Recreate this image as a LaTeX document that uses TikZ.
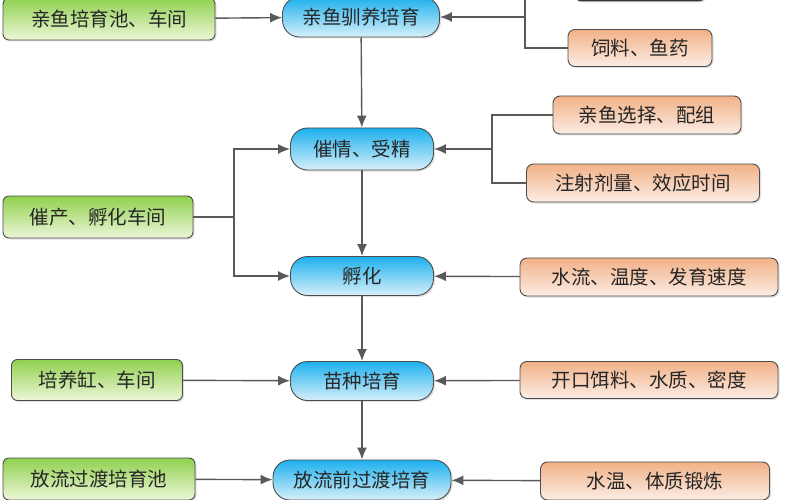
\documentclass[tikz,border=0pt]{standalone}
\usepackage{fontspec}
\setmainfont{Noto Sans CJK SC}
\usetikzlibrary{shadows,arrows.meta}
\definecolor{gtop}{HTML}{8FD14F}
\definecolor{gbot}{HTML}{EEF6D8}
\definecolor{btop}{HTML}{1CB0EE}
\definecolor{bbot}{HTML}{D8F0FA}
\definecolor{otop}{HTML}{F2B187}
\definecolor{obot}{HTML}{FBEDE4}
\begin{document}
\begin{tikzpicture}[x=1pt,y=-1pt,font=\fontsize{19.5}{22}\selectfont,
 base/.style={draw=black!70,line width=0.9pt,inner sep=0pt,anchor=center,text=black!85,
   drop shadow={shadow xshift=1.5pt,shadow yshift=-1.5pt,fill=black!25}},
 g/.style={base,rounded corners=6pt,top color=gtop,bottom color=gbot},
 b/.style={base,rounded corners=17pt,top color=btop,bottom color=bbot},
 o/.style={base,rounded corners=7pt,top color=otop,bottom color=obot},
 ln/.style={draw=black!65,line width=1.4pt},
 ar/.style={ln,-{Latex[length=12pt,width=10pt]}}]
\useasboundingbox (0,0) rectangle (800,500);
\begin{scope}
\clip (0,0) rectangle (800,500);
\node[g,minimum width=212pt,minimum height=42pt] (g1) at (109,19) {亲鱼培育池、车间};
\node[b,minimum width=157pt,minimum height=40pt] (b1) at (361,17) {亲鱼驯养培育};
\node[base,rounded corners=6pt,fill=black!85,minimum width=130pt,minimum height=38pt] (t0) at (640,-18) {};
\coordinate (t0c) at (525,0);
\node[o,minimum width=144pt,minimum height=37pt] (o1) at (640,48) {饲料、鱼药};
\node[b,minimum width=143pt,minimum height=42pt] (b2) at (362,149) {催情、受精};
\node[o,minimum width=188pt,minimum height=38pt] (o2) at (647,115) {亲鱼选择、配组};
\node[o,minimum width=233pt,minimum height=38pt] (o3) at (643,183) {注射剂量、效应时间};
\node[g,minimum width=190pt,minimum height=42pt] (g2) at (98,217) {催产、孵化车间};
\node[b,minimum width=143pt,minimum height=39pt] (b3) at (362,276) {孵化};
\node[o,minimum width=258pt,minimum height=38pt] (o4) at (649,277) {水流、温度、发育速度};
\node[g,minimum width=171pt,minimum height=41pt] (g3) at (97,380) {培养缸、车间};
\node[b,minimum width=143pt,minimum height=39pt] (b4) at (362,381) {苗种培育};
\node[o,minimum width=258pt,minimum height=37pt] (o5) at (649,380) {开口饵料、水质、密度};
\node[g,minimum width=192pt,minimum height=42pt] (g4) at (99,479) {放流过渡培育池};
\node[b,minimum width=178pt,minimum height=40pt] (b5) at (362,480) {放流前过渡培育};
\node[o,minimum width=229pt,minimum height=38pt] (o6) at (655,481) {水温、体质锻炼};
% connectors
\draw[ar] (g1) -- (b1);
\draw[ln] (t0c) |- (o1.west);
\draw[ar] (t0c |- b1) -- (b1);
\draw[ar] (b1) -- (b2);
\draw[ar] (b2) -- (b3);
\draw[ar] (b3) -- (b4);
\draw[ar] (b4) -- (b5);
\draw[ln] (o2.west) -| (492,183) -- (o3.west);
\draw[ar] (492,149) -- (b2);
\draw[ln] (g2.east) -- (234,217);
\draw[ar] (234,217) |- (b2);
\draw[ar] (234,217) |- (b3);
\draw[ar] (o4) -- (b3);
\draw[ar] (g3) -- (b4);
\draw[ar] (o5) -- (b4);
\draw[ar] (g4) -- (b5);
\draw[ar] (o6) -- (b5);
\end{scope}
\end{tikzpicture}
\end{document}
